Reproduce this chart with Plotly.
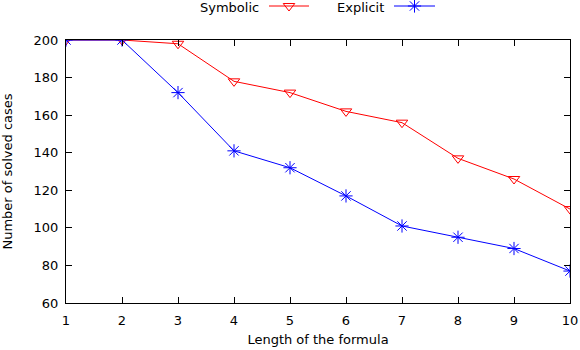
import plotly.graph_objects as go

# formula length vs number of solved cases
lengths = [1, 2, 3, 4, 5, 6, 7, 8, 9, 10]
symbolic = [200, 200, 198, 178, 172, 162, 156, 137, 126, 110]
explicit = [200, 200, 172, 141, 132, 117, 101, 95, 89, 77]

W, H = 580, 350
# plot box in pixels (gnuplot-like layout)
x0, x1, y0, y1 = 66, 570, 40, 303

RED = "#ff0000"
BLUE = "#0000ff"
FONT = dict(family="DejaVu Sans, Liberation Sans, sans-serif", size=13, color="black")

fig = go.Figure()
fig.add_trace(go.Scatter(x=lengths, y=symbolic, mode="lines+markers", name="Symbolic",
                         line=dict(color=RED, width=1),
                         marker=dict(symbol="triangle-down-open", size=10, color=RED, line=dict(width=1))))
fig.add_trace(go.Scatter(x=lengths, y=explicit, mode="lines+markers", name="Explicit",
                         line=dict(color=BLUE, width=1),
                         marker=dict(symbol="asterisk-open", size=11, color=BLUE, line=dict(width=1, color=BLUE))))

# gnuplot style key: text first, then the sample line with its point
key = [("Symbolic", RED, "triangle-down-open", 261, 269, 309),
       ("Explicit", BLUE, "asterisk-open", 386, 394, 435)]
for name, col, sym, tx, lx0, lx1 in key:
    fig.add_trace(go.Scatter(x=[lx0, lx1], y=[6, 6], mode="lines", xaxis="x2", yaxis="y2",
                             line=dict(color=col, width=1), showlegend=False, hoverinfo="skip"))
    fig.add_trace(go.Scatter(x=[(lx0 + lx1) / 2], y=[6], mode="markers", xaxis="x2", yaxis="y2",
                             marker=dict(symbol=sym, size=10 if "triangle" in sym else 11, color=col,
                                         line=dict(width=1, color=col)),
                             showlegend=False, hoverinfo="skip"))
    fig.add_annotation(text=name, xref="paper", yref="paper", x=tx / W, y=1 - 7.5 / H,
                       xanchor="right", yanchor="middle", showarrow=False, font=FONT)

axis_common = dict(showline=True, linecolor="black", linewidth=1, mirror="ticks",
                   ticks="inside", ticklen=6, tickcolor="black", showgrid=False,
                   zeroline=False, tickfont=FONT, automargin=False)

fig.update_layout(
    width=W, height=H,
    margin=dict(l=0, r=0, t=0, b=0),
    paper_bgcolor="white", plot_bgcolor="rgba(0,0,0,0)",
    showlegend=False,
    font=FONT,
    xaxis=dict(domain=[x0 / W, x1 / W], range=[1, 10], dtick=1, ticklabelstandoff=5,
               title=dict(text="Length of the formula", font=FONT, standoff=8), **axis_common),
    yaxis=dict(domain=[1 - y1 / H, 1 - y0 / H], range=[60, 200], dtick=20, ticklabelstandoff=4,
               title=dict(text="Number of solved cases", font=FONT, standoff=18), **axis_common),
    xaxis2=dict(domain=[0, 1], range=[0, W], visible=False, anchor="y2"),
    yaxis2=dict(domain=[0, 1], range=[H, 0], visible=False, anchor="x2"),
)

# page body has a default margin; drop it so the figure sits at the top-left corner
fig.write_html("out.html", config={"displayModeBar": False},
               post_script="document.body.style.margin='0';")
